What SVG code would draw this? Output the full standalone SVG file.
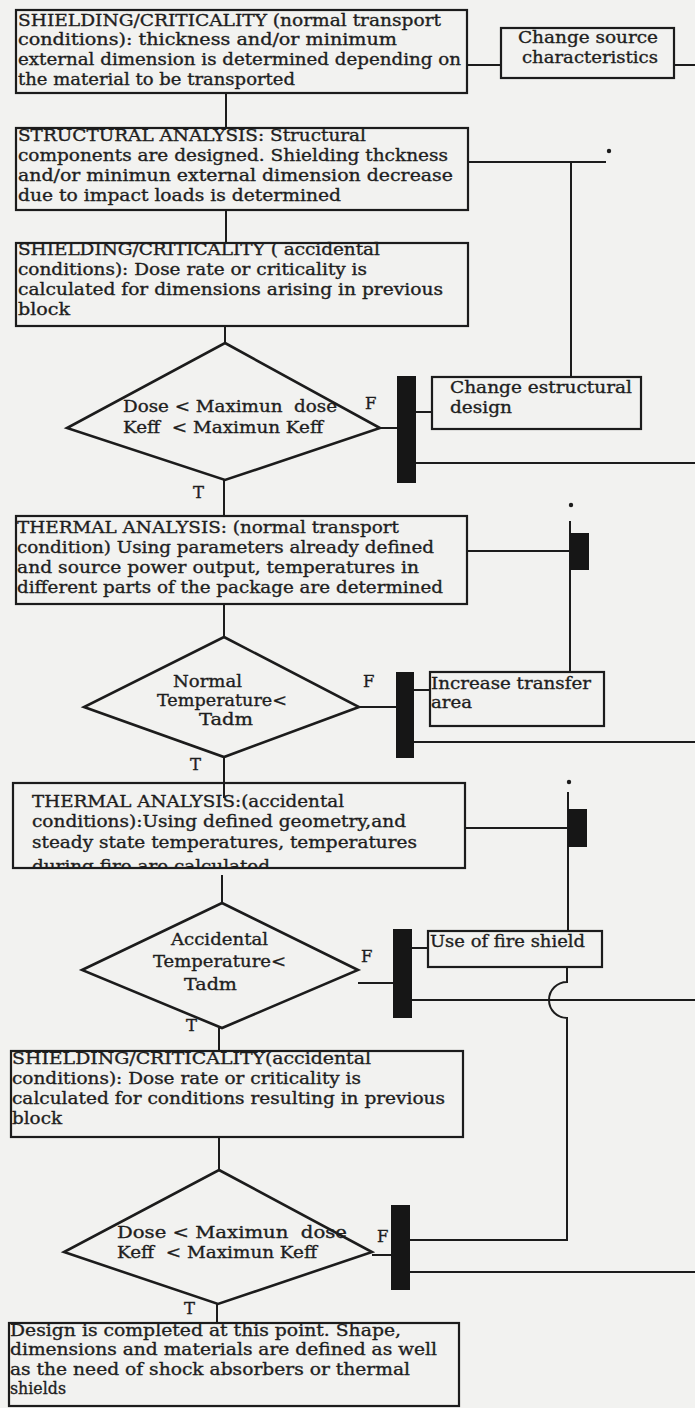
<svg xmlns="http://www.w3.org/2000/svg" width="695" height="1408" viewBox="0 0 695 1408">
<style>
.bx{fill:none;stroke:#1c1c1c;stroke-width:2.2}
.dm{fill:none;stroke:#1c1c1c;stroke-width:2.6;stroke-linejoin:miter}
.ln{fill:none;stroke:#1c1c1c;stroke-width:2}
.bar{fill:#161616}
.t{font-family:"DejaVu Serif","Liberation Serif",serif;font-size:16.5px;fill:#1e1e1e;stroke:#1e1e1e;stroke-width:0.35}
.dot{fill:#1c1c1c}
</style>
<defs>
<clipPath id="clip5"><rect x="0" y="780" width="470" height="88"/></clipPath>
</defs>
<rect width="695" height="1408" fill="#f2f2f0"/>

<g id="connectors">
<path class="ln" d="M226 93V128M226 210V243M225 326V343M224 480V516M224 604V637M224 757V798M222 875V903M219 1028V1051M219 1137V1170M217 1304V1323"/>
<path class="ln" d="M466 65H501M674 65H695"/>
<path class="ln" d="M468 162H606M571 162V377"/>
<path class="ln" d="M380 428H398M416 412H432M416 463H695"/>
<path class="ln" d="M467 551H570M570 521V672"/>
<path class="ln" d="M359 707H396M414 690H430M414 742H695"/>
<path class="ln" d="M465 828H568M568 792V931"/>
<path class="ln" d="M358 983H393M412 948H428M412 1000H695"/>
<path class="ln" d="M567 967V982A18 18 0 0 0 567 1018V1240H410"/>
<path class="ln" d="M372 1255H391M410 1272H695"/>
<rect class="bar" x="397" y="376" width="19" height="107"/>
<rect class="bar" x="396" y="672" width="18" height="86"/>
<rect class="bar" x="393" y="929" width="19" height="89"/>
<rect class="bar" x="391" y="1205" width="19" height="85"/>
<rect class="bar" x="570" y="533" width="19" height="37"/>
<rect class="bar" x="568" y="809" width="19" height="38"/>
<circle class="dot" cx="609" cy="151" r="2.2"/>
<circle class="dot" cx="571" cy="505" r="2.2"/>
<circle class="dot" cx="569" cy="782" r="2.2"/>
<text class="t" x="365" y="409">F</text>
<text class="t" x="363" y="687">F</text>
<text class="t" x="361" y="962">F</text>
<text class="t" x="377" y="1242">F</text>
<text class="t" x="193" y="498">T</text>
<text class="t" x="190" y="770">T</text>
<text class="t" x="186" y="1031">T</text>
<text class="t" x="184" y="1314">T</text>
</g>

<g id="box1">
<rect class="bx" x="16" y="10" width="451" height="83"/>
<text class="t" x="18" y="26" textLength="423" lengthAdjust="spacingAndGlyphs">SHIELDING/CRITICALITY (normal transport</text>
<text class="t" x="18" y="45" textLength="379" lengthAdjust="spacingAndGlyphs">conditions): thickness and/or minimum</text>
<text class="t" x="18" y="65" textLength="443" lengthAdjust="spacingAndGlyphs">external dimension is determined depending on</text>
<text class="t" x="18" y="85" textLength="277" lengthAdjust="spacingAndGlyphs">the material to be transported</text>
</g>

<g id="change-source">
<rect class="bx" x="501" y="28" width="173" height="50"/>
<text class="t" x="518" y="43" textLength="140" lengthAdjust="spacingAndGlyphs">Change source</text>
<text class="t" x="522" y="63" textLength="136" lengthAdjust="spacingAndGlyphs">characteristics</text>
</g>

<g id="box2">
<rect class="bx" x="16" y="128" width="452" height="82"/>
<text class="t" x="18" y="141" textLength="348" lengthAdjust="spacingAndGlyphs">STRUCTURAL ANALYSIS: Structural</text>
<text class="t" x="18" y="161" textLength="430" lengthAdjust="spacingAndGlyphs">components are designed. Shielding thckness</text>
<text class="t" x="18" y="181" textLength="435" lengthAdjust="spacingAndGlyphs">and/or minimun external dimension decrease</text>
<text class="t" x="18" y="201" textLength="323" lengthAdjust="spacingAndGlyphs">due to impact loads is determined</text>
</g>

<g id="box3">
<rect class="bx" x="16" y="243" width="452" height="83"/>
<text class="t" x="18" y="255" textLength="362" lengthAdjust="spacingAndGlyphs">SHIELDING/CRITICALITY ( accidental</text>
<text class="t" x="18" y="275" textLength="349" lengthAdjust="spacingAndGlyphs">conditions): Dose rate or criticality is</text>
<text class="t" x="18" y="295" textLength="425" lengthAdjust="spacingAndGlyphs">calculated for dimensions arising in previous</text>
<text class="t" x="18" y="315" textLength="52" lengthAdjust="spacingAndGlyphs">block</text>
</g>

<g id="decision1">
<polygon class="dm" points="225,343 380,428 225,480 67,428"/>
<text class="t" x="123" y="412" textLength="214" lengthAdjust="spacingAndGlyphs" xml:space="preserve">Dose &lt; Maximun  dose</text>
<text class="t" x="123" y="433" textLength="200" lengthAdjust="spacingAndGlyphs" xml:space="preserve">Keff  &lt; Maximun Keff</text>
</g>

<g id="change-structural">
<rect class="bx" x="432" y="377" width="209" height="52"/>
<text class="t" x="450" y="393" textLength="182" lengthAdjust="spacingAndGlyphs">Change estructural</text>
<text class="t" x="450" y="413" textLength="62" lengthAdjust="spacingAndGlyphs">design</text>
</g>

<g id="box4">
<rect class="bx" x="16" y="516" width="451" height="88"/>
<text class="t" x="17" y="533" textLength="382" lengthAdjust="spacingAndGlyphs">THERMAL ANALYSIS: (normal transport</text>
<text class="t" x="17" y="553" textLength="417" lengthAdjust="spacingAndGlyphs">condition) Using parameters already defined</text>
<text class="t" x="17" y="573" textLength="402" lengthAdjust="spacingAndGlyphs">and source power output, temperatures in</text>
<text class="t" x="17" y="593" textLength="426" lengthAdjust="spacingAndGlyphs">different parts of the package are determined</text>
</g>

<g id="decision2">
<polygon class="dm" points="224,637 359,707 224,757 84,707"/>
<text class="t" x="173" y="687" textLength="69" lengthAdjust="spacingAndGlyphs">Normal</text>
<text class="t" x="157" y="706" textLength="130" lengthAdjust="spacingAndGlyphs">Temperature&lt;</text>
<text class="t" x="199" y="725" textLength="54" lengthAdjust="spacingAndGlyphs">Tadm</text>
</g>

<g id="increase-transfer">
<rect class="bx" x="430" y="672" width="174" height="54"/>
<text class="t" x="431" y="689" textLength="160" lengthAdjust="spacingAndGlyphs">Increase transfer</text>
<text class="t" x="431" y="708" textLength="41" lengthAdjust="spacingAndGlyphs">area</text>
</g>

<g id="box5">
<rect class="bx" x="13" y="783" width="452" height="85"/>
<g clip-path="url(#clip5)">
<text class="t" x="32" y="807" textLength="312" lengthAdjust="spacingAndGlyphs">THERMAL ANALYSIS:(accidental</text>
<text class="t" x="32" y="827" textLength="374" lengthAdjust="spacingAndGlyphs">conditions):Using defined geometry,and</text>
<text class="t" x="32" y="848" textLength="385" lengthAdjust="spacingAndGlyphs">steady state temperatures, temperatures</text>
<text class="t" x="32" y="872" textLength="238" lengthAdjust="spacingAndGlyphs">during fire are calculated</text>
</g>
</g>

<g id="decision3">
<polygon class="dm" points="222,903 358,970 222,1028 82,970"/>
<text class="t" x="171" y="945" textLength="97" lengthAdjust="spacingAndGlyphs">Accidental</text>
<text class="t" x="153" y="967" textLength="133" lengthAdjust="spacingAndGlyphs">Temperature&lt;</text>
<text class="t" x="184" y="990" textLength="53" lengthAdjust="spacingAndGlyphs">Tadm</text>
</g>

<g id="fire-shield">
<rect class="bx" x="428" y="931" width="174" height="36"/>
<text class="t" x="430" y="947" textLength="155" lengthAdjust="spacingAndGlyphs">Use of fire shield</text>
</g>

<g id="box6">
<rect class="bx" x="11" y="1051" width="452" height="86"/>
<text class="t" x="12" y="1064" textLength="359" lengthAdjust="spacingAndGlyphs">SHIELDING/CRITICALITY(accidental</text>
<text class="t" x="12" y="1084" textLength="349" lengthAdjust="spacingAndGlyphs">conditions): Dose rate or criticality is</text>
<text class="t" x="12" y="1104" textLength="433" lengthAdjust="spacingAndGlyphs">calculated for conditions resulting in previous</text>
<text class="t" x="12" y="1124" textLength="50" lengthAdjust="spacingAndGlyphs">block</text>
</g>

<g id="decision4">
<polygon class="dm" points="219,1170 372,1252 218,1304 64,1252"/>
<text class="t" x="117" y="1238" textLength="230" lengthAdjust="spacingAndGlyphs" xml:space="preserve">Dose &lt; Maximun  dose</text>
<text class="t" x="117" y="1258" textLength="200" lengthAdjust="spacingAndGlyphs" xml:space="preserve">Keff  &lt; Maximun Keff</text>
</g>

<g id="box7">
<rect class="bx" x="9" y="1323" width="450" height="83"/>
<text class="t" x="10" y="1336" textLength="391" lengthAdjust="spacingAndGlyphs">Design is completed at this point. Shape,</text>
<text class="t" x="10" y="1355" textLength="427" lengthAdjust="spacingAndGlyphs">dimensions and materials are defined as well</text>
<text class="t" x="10" y="1375" textLength="400" lengthAdjust="spacingAndGlyphs">as the need of shock absorbers or thermal</text>
<text class="t" x="10" y="1394" textLength="56" lengthAdjust="spacingAndGlyphs">shields</text>
</g>
</svg>
